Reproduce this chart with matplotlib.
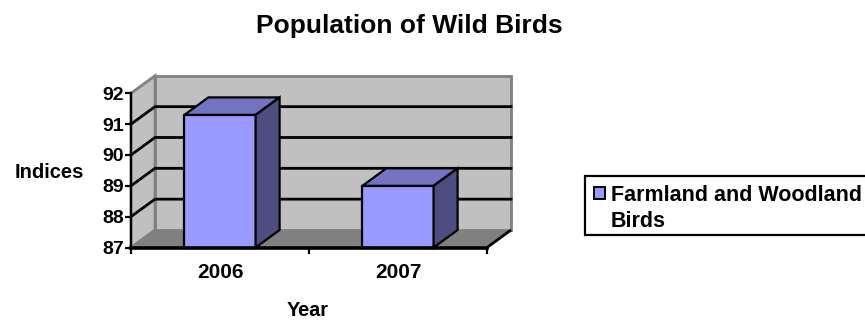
import matplotlib
matplotlib.use("Agg")
import matplotlib.pyplot as plt
from matplotlib.patches import Polygon, Rectangle
import numpy as np

# Data
years = ["2006", "2007"]
indices = [91.3, 89.0]
series_name = "Farmland and Woodland\nBirds"
y_ticks = [87, 88, 89, 90, 91, 92]

title = "Population of Wild Birds"
x_label = "Year"
y_label = "Indices"

# Colours (classic spreadsheet 3-D column look)
FRONT = "#9999FF"
TOP = "#7373C2"
SIDE = "#4D4D80"
WALL = "#C0C0C0"
FLOOR = "#808080"
EDGE = "#808080"

plt.rcParams["font.family"] = ["Liberation Sans", "DejaVu Sans"]
plt.rcParams["font.weight"] = "bold"

W, H, DPI = 865, 320, 100
fig = plt.figure(figsize=(W / DPI, H / DPI), dpi=DPI)
fig.patch.set_facecolor("white")

ax = fig.add_axes([131 / W, (H - 247.5) / H, 356 / W, 154.2 / H])
ymin, ymax = y_ticks[0], y_ticks[-1]
xpos = np.arange(len(years))
x0, x1 = -0.5, len(years) - 0.5
ax.set_xlim(x0, x1)
ax.set_ylim(ymin, ymax)

# depth offset of the 3-D box, converted to data units
dpx, dpy = 24 * DPI / 100, 17.5 * DPI / 100
p0 = ax.transData.transform((0, ymin))
p1 = ax.transData.inverted().transform(p0 + np.array([dpx, dpy]))
ddx, ddy = p1[0] - 0, p1[1] - ymin


def poly(pts, **kw):
    kw.setdefault("clip_on", False)
    ax.add_patch(Polygon(pts, closed=True, **kw))


# back wall
poly([(x0 + ddx, ymin + ddy), (x1 + ddx, ymin + ddy),
      (x1 + ddx, ymax + ddy), (x0 + ddx, ymax + ddy)],
     facecolor=WALL, edgecolor=EDGE, lw=2, zorder=1)
# side wall
poly([(x0, ymin), (x0 + ddx, ymin + ddy), (x0 + ddx, ymax + ddy), (x0, ymax)],
     facecolor=WALL, edgecolor=EDGE, lw=2, zorder=1)
# floor
poly([(x0, ymin), (x1, ymin), (x1 + ddx, ymin + ddy), (x0 + ddx, ymin + ddy)],
     facecolor=FLOOR, edgecolor="none", zorder=2)
ax.plot([x1, x1 + ddx], [ymin, ymin + ddy], color="black", lw=2,
        clip_on=False, zorder=2.5, solid_capstyle="butt")

# gridlines along side and back walls
for v in y_ticks[1:-1]:
    ax.plot([x0, x0 + ddx, x1 + ddx], [v, v + ddy, v + ddy], color="black",
            lw=2, clip_on=False, zorder=3)

# bars: front faces through the bar API, then top and side faces
bw = 0.4
bars = ax.bar(xpos, np.array(indices) - ymin, bottom=ymin, width=bw,
              color=FRONT, edgecolor="black", linewidth=1.6, zorder=5,
              clip_on=False)
for xc, v in zip(xpos, indices):
    l, r = xc - bw / 2, xc + bw / 2
    poly([(l, v), (r, v), (r + ddx, v + ddy), (l + ddx, v + ddy)],
         facecolor=TOP, edgecolor="black", lw=1.6, zorder=5, joinstyle="miter")
    poly([(r, ymin), (r + ddx, ymin + ddy), (r + ddx, v + ddy), (r, v)],
         facecolor=SIDE, edgecolor="black", lw=1.6, zorder=5, joinstyle="miter")

# axes
for s in ["top", "right"]:
    ax.spines[s].set_visible(False)
ax.spines["left"].set_linewidth(1.6)
ax.spines["bottom"].set_linewidth(2.6)
ax.spines["left"].set_zorder(6)
ax.spines["bottom"].set_zorder(6)
ax.set_facecolor("none")
ax.set_yticks(y_ticks)
ax.set_yticklabels([str(t) for t in y_ticks], fontsize=14, fontweight="bold")
ax.tick_params(axis="y", direction="out", length=4, width=1.6, pad=1)
ax.set_xticks(np.arange(len(years) + 1) - 0.5)
ax.set_xticklabels([])
ax.tick_params(axis="x", which="major", direction="out", length=4, width=1.6)
ax.set_xticks(xpos, minor=True)
ax.set_xticklabels(years, minor=True, fontsize=15, fontweight="bold")
ax.tick_params(axis="x", which="minor", length=0, pad=11)

fig.text(409 / W, 1 - 26 / H, title, ha="center", va="center",
         fontsize=19, fontweight="bold")
fig.text(49 / W, 1 - 172 / H, y_label, ha="center", va="center",
         fontsize=14.5, fontweight="bold")
fig.text(308 / W, 1 - 311 / H, x_label, ha="center", va="center",
         fontsize=14.3, fontweight="bold")

# legend box (runs off the right edge)
fig.patches.append(Rectangle((585 / W, 1 - 235 / H), 300 / W, 59 / H,
                             transform=fig.transFigure, facecolor="white",
                             edgecolor="black", lw=1.6, clip_on=False))
fig.patches.append(Rectangle((594 / W, 1 - 199 / H), 11 / W, 12 / H,
                             transform=fig.transFigure, facecolor=FRONT,
                             edgecolor="black", lw=1.4))
for i, line in enumerate(series_name.split("\n")):
    fig.text(611 / W, 1 - (193 + 26 * i) / H, line, ha="left",
             va="center_baseline", fontsize=15.5, fontweight="bold")

fig.savefig("out.png", dpi=DPI)
